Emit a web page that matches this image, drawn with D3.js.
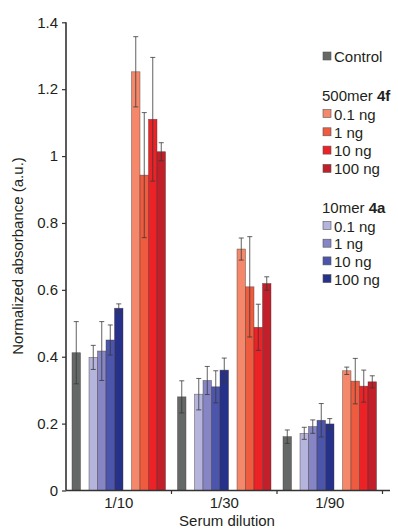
<!DOCTYPE html>
<html>
<head>
<meta charset="utf-8">
<script src="https://cdn.jsdelivr.net/npm/d3@7"></script>
<style>
  body { margin: 0; background: #fff; }
  text { font-family: "Liberation Sans", Arial, sans-serif; fill: #231f20; }
</style>
</head>
<body>
<div id="chart"></div>
<script>
// serum dilutions on the x axis
var dilutions = ["1/10", "1/30", "1/90"];
var doses = ["0.1 ng", "1 ng", "10 ng", "100 ng"];

// mean values, one per dilution
var control = [0.412, 0.280, 0.161];
var controlErr = [0.093, 0.048, 0.020];

// 10mer 4a, rows = dose, cols = dilution
var mer10 = [
  [0.398, 0.288, 0.171],
  [0.417, 0.329, 0.191],
  [0.450, 0.310, 0.210],
  [0.545, 0.360, 0.199]
];
var mer10Err = [
  [0.036, 0.047, 0.018],
  [0.088, 0.042, 0.020],
  [0.045, 0.048, 0.050],
  [0.013, 0.036, 0.016]
];

// 500mer 4f
var mer500 = [
  [1.252, 0.722, 0.358],
  [0.943, 0.609, 0.327],
  [1.110, 0.488, 0.312],
  [1.013, 0.619, 0.325]
];
var mer500Err = [
  [0.105, 0.033, 0.011],
  [0.187, 0.150, 0.068],
  [0.185, 0.069, 0.048],
  [0.027, 0.020, 0.018]
];

var yTicks = [0, 0.2, 0.4, 0.6, 0.8, 1, 1.2, 1.4];

var controlColor = "#646867";
var blueColors = ["#b4b4dc", "#8686c6", "#4a55ab", "#263189"];
var redColors = ["#f5886a", "#ef5b3f", "#ec2227", "#c11f29"];

var width = 398, height = 530;
var fs = "15px";

var svg = d3.select("#chart").append("svg")
  .attr("width", width)
  .attr("height", height);

var x = d3.scaleBand()
  .domain(dilutions)
  .range([66, 382.5])
  .padding(0);

// slots inside one group: control, gap, 4 blue, gap, 4 red
var slots = ["c", "g1", "b0", "b1", "b2", "b3", "g2", "r0", "r1", "r2", "r3"];
var xi = d3.scaleBand()
  .domain(slots)
  .range([6, x.bandwidth() - 6])
  .padding(0);

var y = d3.scaleLinear()
  .domain([0, 1.4])
  .range([490.5, 22.3]);

// flatten into bars
var bars = [];
dilutions.forEach(function(dil, j) {
  bars.push({dil: dil, slot: "c", v: control[j], e: controlErr[j], color: controlColor});
  doses.forEach(function(d, i) {
    bars.push({dil: dil, slot: "b" + i, v: mer10[i][j], e: mer10Err[i][j], color: blueColors[i]});
  });
  doses.forEach(function(d, i) {
    bars.push({dil: dil, slot: "r" + i, v: mer500[i][j], e: mer500Err[i][j], color: redColors[i]});
  });
});

var g = svg.append("g");

g.selectAll(".bar")
  .data(bars)
  .enter().append("rect")
  .attr("class", "bar")
  .attr("x", function(d) { return x(d.dil) + xi(d.slot); })
  .attr("width", xi.bandwidth())
  .attr("y", function(d) { return y(d.v); })
  .attr("height", function(d) { return y(0) - y(d.v); })
  .style("fill", function(d) { return d.color; })
  .style("stroke", "#4a3a3a")
  .style("stroke-width", 0.6)
  .style("stroke-opacity", 0.7);

// error bars
var eb = g.selectAll(".err")
  .data(bars)
  .enter().append("g")
  .attr("class", "err")
  .attr("transform", function(d) {
    return "translate(" + (x(d.dil) + xi(d.slot) + xi.bandwidth() / 2) + ",0)";
  })
  .style("stroke", "#3a3a3a")
  .style("stroke-width", 0.8);

eb.append("line")
  .attr("y1", function(d) { return y(d.v + d.e); })
  .attr("y2", function(d) { return y(d.v - d.e); });
eb.append("line")
  .attr("x1", -2.5).attr("x2", 2.5)
  .attr("y1", function(d) { return y(d.v + d.e); })
  .attr("y2", function(d) { return y(d.v + d.e); });
eb.append("line")
  .attr("x1", -2.5).attr("x2", 2.5)
  .attr("y1", function(d) { return y(d.v - d.e); })
  .attr("y2", function(d) { return y(d.v - d.e); });

// y axis
var yAxis = svg.append("g")
  .attr("transform", "translate(66,0)")
  .call(d3.axisLeft(y).tickValues(yTicks).tickSize(4).tickPadding(4)
    .tickFormat(function(d) { return d3.format("~g")(d); }));
yAxis.select(".domain").attr("d", "M0," + y(1.4) + "V" + y(0)).style("stroke", "#333").style("stroke-width", 1.6);
yAxis.selectAll(".tick line").style("stroke", "#333").style("stroke-width", 1.2);
yAxis.selectAll(".tick text").style("font-size", fs).style("fill", "#231f20")
  .style("font-family", "'Liberation Sans', Arial, sans-serif");

// x axis
var xAxis = svg.append("g")
  .attr("transform", "translate(0," + y(0) + ")");
xAxis.append("line")
  .attr("x1", 66).attr("x2", 390)
  .style("stroke", "#333").style("stroke-width", 1.6);
xAxis.selectAll(".xtick")
  .data(dilutions)
  .enter().append("line")
  .attr("x1", function(d) { return x(d) + x.bandwidth(); })
  .attr("x2", function(d) { return x(d) + x.bandwidth(); })
  .attr("y1", 0).attr("y2", 3.5)
  .style("stroke", "#333").style("stroke-width", 1.2);
xAxis.selectAll(".xlab")
  .data(dilutions)
  .enter().append("text")
  .attr("x", function(d) { return x(d) + x.bandwidth() / 2; })
  .attr("y", 17)
  .attr("text-anchor", "middle")
  .style("font-size", fs)
  .text(function(d) { return d; });

svg.append("text")
  .attr("x", 227)
  .attr("y", 526)
  .attr("text-anchor", "middle")
  .style("font-size", fs)
  .text("Serum dilution");

svg.append("text")
  .attr("transform", "translate(23,256) rotate(-90)")
  .attr("text-anchor", "middle")
  .style("font-size", fs)
  .text("Normalized absorbance (a.u.)");

// legend
var legend = svg.append("g").attr("transform", "translate(323,0)");

function legendItem(yb, color, label) {
  legend.append("rect")
    .attr("x", 0).attr("y", yb - 10)
    .attr("width", 8).attr("height", 8)
    .style("fill", color)
    .style("stroke", "#555").style("stroke-width", 0.6);
  legend.append("text")
    .attr("x", 11).attr("y", yb)
    .style("font-size", fs)
    .text(label);
}

legendItem(62, controlColor, "Control");

function legendHeader(yb, name, bold) {
  var t = legend.append("text")
    .attr("x", -1).attr("y", yb)
    .style("font-size", fs);
  t.append("tspan").text(name + " ");
  t.append("tspan").style("font-weight", "bold").text(bold);
}

legendHeader(101, "500mer", "4f");
doses.forEach(function(d, i) {
  legendItem(119.5 + i * 18.3, redColors[i], d);
});

legendHeader(213, "10mer", "4a");
doses.forEach(function(d, i) {
  legendItem(231.5 + i * 17.7, blueColors[i], d);
});
</script>
</body>
</html>
